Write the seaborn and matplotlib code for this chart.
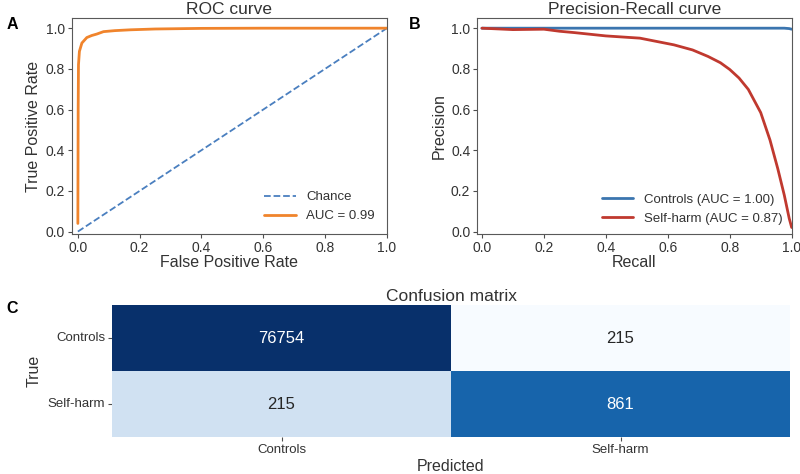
import matplotlib

matplotlib.use('Agg')

import numpy as np  # noqa: E402
import pandas as pd  # noqa: E402
import seaborn as sns  # noqa: E402
from matplotlib import pyplot as plt  # noqa: E402

# ROC curve
ROC_FPR = [0.0, 0.001, 0.002, 0.005, 0.013, 0.029, 0.045, 0.061, 0.083, 0.12, 0.17, 0.25, 0.4, 0.6, 1.0]
ROC_TPR = [0.04, 0.6, 0.82, 0.886, 0.927, 0.954, 0.964, 0.971, 0.983, 0.988, 0.992, 0.996, 0.999, 1.0, 1.0]
ROC_AUC = 0.99

# Precision-recall curves
PR_RECALL = [0.0, 0.1, 0.2, 0.25, 0.3, 0.4, 0.51, 0.62, 0.68, 0.73, 0.77, 0.8, 0.83, 0.86,
             0.9, 0.93, 0.955, 0.976, 0.992, 1.0]
PR_SELFHARM = [1.0, 0.993, 0.995, 0.985, 0.978, 0.962, 0.951, 0.918, 0.893, 0.861, 0.83, 0.797, 0.755,
               0.699, 0.585, 0.45, 0.31, 0.18, 0.065, 0.02]
PR_CONTROLS = [1.0] * 18 + [0.998, 0.995]
PR_LABELS = ['Controls (AUC = 1.00)', 'Self-harm (AUC = 0.87)']

# Confusion matrix
CLASSES = ['Controls', 'Self-harm']
CONFUSION = [[76754, 215], [215, 861]]

sns.set_style('ticks')
plt.rcParams['font.family'] = ['Liberation Sans', 'DejaVu Sans']
plt.rcParams['text.color'] = '.2'
plt.rcParams['axes.labelcolor'] = '.2'
plt.rcParams['xtick.color'] = '.3'
plt.rcParams['ytick.color'] = '.3'
plt.rcParams['xtick.labelcolor'] = '.2'
plt.rcParams['ytick.labelcolor'] = '.2'
plt.rcParams['axes.edgecolor'] = '.35'

fig = plt.figure(figsize=(8, 4.74), dpi=100)


def style_curve_axes(ax, title, xlabel, ylabel, xmin):
    ax.set_xlim(xmin, 1.0)
    ax.set_ylim(-0.012, 1.05)
    ax.set_xticks(np.arange(0, 1.01, 0.2))
    ax.set_yticks(np.arange(0, 1.01, 0.2))
    ax.set_title(title, fontsize=12.5, pad=3)
    ax.set_xlabel(xlabel, fontsize=11.5, labelpad=0)
    ax.set_ylabel(ylabel, fontsize=11.5, labelpad=3)
    ax.tick_params(labelsize=10, length=3, pad=2)


# --- A: ROC ---
ax_a = fig.add_axes([0.0896, 0.5063, 0.394, 0.4557])
ax_a.plot([0, 1], [0, 1], ls='--', color='#4a7fbf', lw=1.3, label='Chance')
sns.lineplot(x=ROC_FPR, y=ROC_TPR, ax=ax_a, color='#f0842c', lw=2, sort=False,
             estimator=None, label=f'AUC = {ROC_AUC:.2f}')
style_curve_axes(ax_a, 'ROC curve', 'False Positive Rate', 'True Positive Rate', -0.02)
ax_a.legend(loc='lower right', frameon=False, fontsize=9.5, handlelength=2.4)

# --- B: Precision-Recall ---
ax_b = fig.add_axes([0.5966, 0.5063, 0.393, 0.4557])
pr = pd.DataFrame({
    'recall': PR_RECALL * 2,
    'precision': PR_CONTROLS + PR_SELFHARM,
    'group': [PR_LABELS[0]] * len(PR_RECALL) + [PR_LABELS[1]] * len(PR_RECALL),
})
sns.lineplot(pr, x='recall', y='precision', hue='group', ax=ax_b, sort=False,
             estimator=None, palette=['#3b75af', '#c0392f'], lw=2)
style_curve_axes(ax_b, 'Precision-Recall curve', 'Recall', 'Precision', -0.015)
ax_b.legend(loc='lower right', frameon=False, fontsize=9.5, title=None, handlelength=2.4,
            borderaxespad=0.3)

# --- C: Confusion matrix ---
ax_c = fig.add_axes([0.14, 0.078, 0.8475, 0.278])
cm = pd.DataFrame(CONFUSION, index=CLASSES, columns=CLASSES)
cm_norm = cm.div(cm.sum(axis=1), axis=0)
sns.heatmap(cm_norm, annot=cm.values, fmt='d', cmap='Blues', vmin=0, vmax=1, cbar=False,
            ax=ax_c, annot_kws={'fontsize': 12})
ax_c.set_title('Confusion matrix', fontsize=12.5, pad=3)
ax_c.set_xlabel('Predicted', fontsize=11.5, labelpad=2)
ax_c.set_ylabel('True', fontsize=11.5, labelpad=4)
ax_c.tick_params(labelsize=9.5, length=3, pad=2)
ax_c.set_yticklabels(CLASSES, rotation=0)

fig.text(0.008, 0.939, 'A', fontsize=11.5, fontweight='bold', color='black')
fig.text(0.511, 0.939, 'B', fontsize=11.5, fontweight='bold', color='black')
fig.text(0.008, 0.339, 'C', fontsize=11.5, fontweight='bold', color='black')

fig.savefig('out.png', dpi=100)
